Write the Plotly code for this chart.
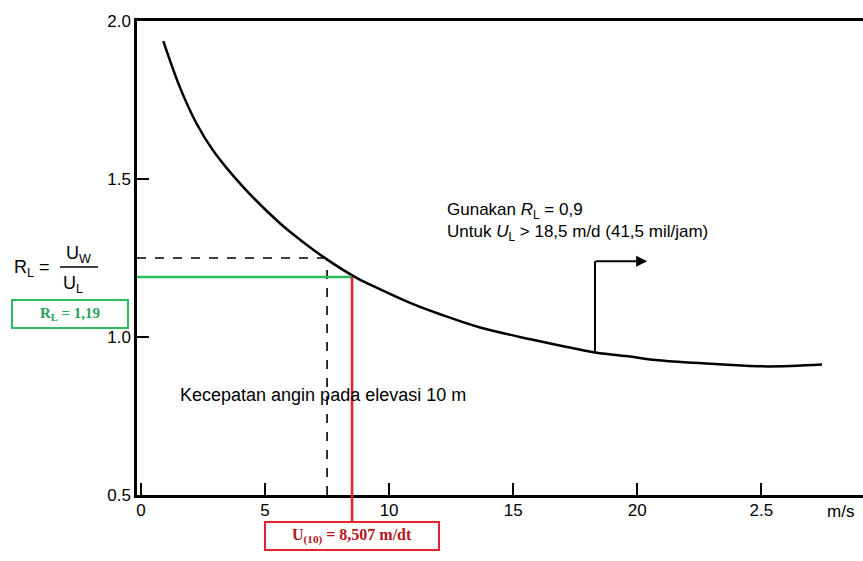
import plotly.graph_objects as go

# ---- data ----
wind_speed = [0.90, 1.57, 2.25, 2.90, 4.06, 5.60, 6.41, 7.45, 8.67, 9.64,
              10.97, 12.06, 13.67, 15.69, 18.31, 19.72, 20.52, 23.47, 25.24, 27.45]
rl_ratio = [1.936, 1.790, 1.674, 1.591, 1.480, 1.360, 1.308, 1.248, 1.188, 1.151,
            1.104, 1.072, 1.030, 0.993, 0.951, 0.938, 0.929, 0.913, 0.907, 0.913]

x_tick_vals = [0, 5, 10, 15, 20, 25]
x_tick_text = ["0", "5", "10", "15", "20", "2.5"]
y_tick_vals = [0.5, 1.0, 1.5, 2.0]
y_tick_text = ["0.5", "1.0", "1.5", "2.0"]

u10 = 8.507          # red marker line
rl_value = 1.19      # green marker line
dash_x = 7.5         # dashed guide
dash_y = 1.25
hint_x = 18.3        # arrow pointer
hint_y0 = 0.951
hint_y1 = 1.24
hint_tip = 20.4

x_range = [-0.16, 29.1]
y_range = [0.5, 2.0]

W, H = 863, 561
ml, mr, mt, mb = 137, 0, 21, 66
pw, ph = W - ml - mr, H - mt - mb


def px(xp):
    return (xp - ml) / pw


def py(yp):
    return (H - mb - yp) / ph


SANS = "Liberation Sans, Arial, sans-serif"
SERIF = "Liberation Serif, Times New Roman, serif"
GREEN = "#2dbb5d"
RED = "#e3262b"

fig = go.Figure()
fig.add_trace(go.Scatter(x=wind_speed, y=rl_ratio, mode="lines",
                         line=dict(color="black", width=2.5, shape="spline", smoothing=1.0),
                         hoverinfo="skip", showlegend=False))

shapes = [
    dict(type="line", xref="x", yref="y", x0=x_range[0], x1=dash_x, y0=dash_y, y1=dash_y,
         line=dict(color="black", width=1.6, dash="dash")),
    dict(type="line", xref="x", yref="y", x0=dash_x, x1=dash_x, y0=y_range[0], y1=dash_y,
         line=dict(color="black", width=1.6, dash="dash")),
    dict(type="line", xref="x", yref="y", x0=x_range[0], x1=u10, y0=rl_value, y1=rl_value,
         line=dict(color=GREEN, width=2.6)),
    dict(type="line", xref="x", yref="y", x0=hint_x, x1=hint_x, y0=hint_y0, y1=hint_y1,
         line=dict(color="black", width=2)),
    # fraction bar
    dict(type="line", xref="paper", yref="paper", x0=px(60), x1=px(98), y0=py(267), y1=py(267),
         line=dict(color="black", width=1.5)),
]

red_center_y = 536
red_tip_y = (H - mb) - (rl_value - y_range[0]) / (y_range[1] - y_range[0]) * ph

annotations = [
    dict(x=u10, y=rl_value, xref="x", yref="y", ax=0, ay=red_center_y - red_tip_y,
         axref="pixel", ayref="pixel",
         showarrow=True, arrowhead=0, arrowwidth=2.6, arrowcolor=RED, standoff=0,
         text="<b>U<sub>(10)</sub> = 8,507 m/dt</b>",
         font=dict(family=SERIF, size=16, color="#b8141c"),
         bordercolor=RED, borderwidth=2, borderpad=1, bgcolor="rgba(0,0,0,0)",
         width=170, height=24),
    dict(x=px(70), y=py(314), xref="paper", yref="paper", xanchor="center", yanchor="middle",
         showarrow=False, text="<b>R<sub>L</sub> = 1,19</b>",
         font=dict(family=SERIF, size=15, color="#2aa15a"),
         bordercolor=GREEN, borderwidth=2, borderpad=1, bgcolor="white", width=112, height=24),
    dict(x=px(12), y=py(268), xref="paper", yref="paper", xanchor="left", yanchor="middle",
         showarrow=False, text="R<sub>L</sub> =", font=dict(family=SANS, size=18, color="black")),
    dict(x=px(78), y=py(254), xref="paper", yref="paper", xanchor="center", yanchor="middle",
         showarrow=False, text="U<sub>W</sub>", font=dict(family=SANS, size=18, color="black")),
    dict(x=px(73), y=py(284), xref="paper", yref="paper", xanchor="center", yanchor="middle",
         showarrow=False, text="U<sub>L</sub>", font=dict(family=SANS, size=18, color="black")),
    dict(x=px(445), y=py(211), xref="paper", yref="paper", xanchor="left", yanchor="middle",
         showarrow=False, text="Gunakan <i>R</i><sub>L</sub> = 0,9",
         font=dict(family=SANS, size=17, color="black")),
    dict(x=px(445), y=py(233), xref="paper", yref="paper", xanchor="left", yanchor="middle",
         showarrow=False, text="Untuk <i>U</i><sub>L</sub> > 18,5 m/d (41,5 mil/jam)",
         font=dict(family=SANS, size=17, color="black")),
    dict(x=px(178), y=py(395), xref="paper", yref="paper", xanchor="left", yanchor="middle",
         showarrow=False, text="Kecepatan angin pada elevasi 10 m",
         font=dict(family=SANS, size=18, color="black")),
    dict(x=hint_tip, y=hint_y1, ax=hint_x - 0.03, ay=hint_y1, xref="x", yref="y",
         axref="x", ayref="y", showarrow=True, arrowhead=2, arrowsize=1.1, arrowwidth=2,
         arrowcolor="black", text=""),
    dict(x=px(840), y=py(511), xref="paper", yref="paper", xanchor="center", yanchor="middle",
         showarrow=False, text="m/s", font=dict(family=SANS, size=17, color="black")),
]

fig.update_layout(
    width=W, height=H,
    margin=dict(l=ml, r=mr, t=mt, b=mb, pad=0),
    paper_bgcolor="white", plot_bgcolor="white",
    showlegend=False,
    shapes=shapes, annotations=annotations,
    xaxis=dict(range=x_range, tickvals=x_tick_vals, ticktext=x_tick_text,
               ticks="inside", ticklen=12, tickwidth=1.5, tickcolor="black",
               showline=True, linecolor="black", linewidth=2.5, mirror=True,
               showgrid=False, zeroline=False, ticklabelstandoff=-2,
               tickfont=dict(family=SANS, size=17, color="black")),
    yaxis=dict(range=y_range, tickvals=y_tick_vals, ticktext=y_tick_text,
               ticks="inside", ticklen=12, tickwidth=1.5, tickcolor="black",
               showline=True, linecolor="black", linewidth=2.5, mirror=False,
               showgrid=False, zeroline=False,
               tickfont=dict(family=SANS, size=17, color="black")),
)

fig.write_html("out.html", config={"displayModeBar": False},
               post_script="document.body.style.margin='0';document.body.style.overflow='hidden';")
